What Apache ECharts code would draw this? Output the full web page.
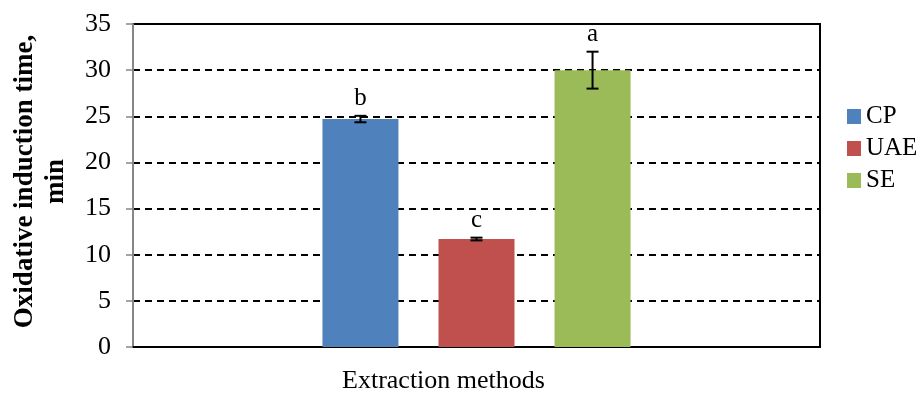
<!DOCTYPE html>
<html>
<head>
<meta charset="utf-8">
<script src="https://cdn.jsdelivr.net/npm/echarts@6/dist/echarts.min.js"></script>
<style>
html,body{margin:0;padding:0;background:#fff;}
#chart{width:924px;height:394px;}
</style>
</head>
<body>
<div id="chart"></div>
<script>
// ---- data ----
const methods = ['CP', 'UAE', 'SE'];
const positions = [1, 2, 3];
const oitValues = [24.7, 11.7, 30.0];
const oitErrors = [0.35, 0.15, 2.0];
const sigLetters = ['b', 'c', 'a'];
const yTicks = [0, 5, 10, 15, 20, 25, 30, 35];

const colors = ['#4F81BD', '#C0504D', '#9BBB59'];
const FONT = '"Liberation Serif", "Times New Roman", serif';

const chart = echarts.init(document.getElementById('chart'), null, {renderer: 'canvas'});

function makeSeries(i) {
  return {
    name: methods[i],
    type: 'custom',
    itemStyle: {color: colors[i]},
    data: [[positions[i], oitValues[i], oitErrors[i]]],
    encode: {x: 0, y: 1},
    renderItem: function (params, api) {
      const x = api.value(0), v = api.value(1), e = api.value(2), letter = sigLetters[i];
      const base = api.coord([x, 0]);
      const top = api.coord([x, v]);
      const eHi = api.coord([x, v + e]);
      const eLo = api.coord([x, v - e]);
      const bw = 76, cap = 6;
      return {
        type: 'group',
        children: [
          {type: 'rect', shape: {x: base[0] - bw / 2, y: top[1], width: bw, height: base[1] - top[1]},
            style: {fill: colors[i]}},
          {type: 'line', shape: {x1: eHi[0], y1: eHi[1], x2: eLo[0], y2: eLo[1]},
            style: {stroke: '#000', lineWidth: 2}},
          {type: 'line', shape: {x1: eHi[0] - cap, y1: eHi[1], x2: eHi[0] + cap, y2: eHi[1]},
            style: {stroke: '#000', lineWidth: 2}},
          {type: 'line', shape: {x1: eLo[0] - cap, y1: eLo[1], x2: eLo[0] + cap, y2: eLo[1]},
            style: {stroke: '#000', lineWidth: 2}},
          {type: 'text', x: eHi[0], y: eHi[1] - 5,
            style: {text: letter, fill: '#000', font: '25px ' + FONT, textAlign: 'center', textVerticalAlign: 'bottom'}}
        ]
      };
    }
  };
}

const option = {
  animation: false,
  backgroundColor: '#fff',
  grid: {left: 133, top: 24, width: 687, height: 323, containLabel: false, outerBoundsMode: 'none',
    show: true, borderColor: '#000', borderWidth: 2, backgroundColor: 'transparent'},
  legend: {
    orient: 'vertical', left: 847, top: 104, padding: 0,
    icon: 'rect', itemWidth: 14, itemHeight: 15, itemGap: 7,
    textStyle: {fontFamily: FONT, fontSize: 25, color: '#000'},
    data: methods
  },
  xAxis: {
    type: 'value', min: -0.96, max: 4.96,
    name: 'Extraction methods', nameLocation: 'middle', nameGap: 21,
    nameTextStyle: {fontFamily: FONT, fontSize: 26, color: '#000', padding: [0, 66, 0, 0]},
    axisLine: {show: true, onZero: false, lineStyle: {color: '#000', width: 2}},
    axisTick: {show: false}, axisLabel: {show: false}, splitLine: {show: false}
  },
  yAxis: {
    type: 'value', min: yTicks[0], max: yTicks[yTicks.length - 1], interval: 5,
    name: 'Oxidative induction time,\nmin', nameLocation: 'middle', nameGap: 61, nameRotate: 90,
    nameTextStyle: {fontFamily: FONT, fontSize: 27, fontWeight: 'bold', color: '#000', lineHeight: 31, padding: [0, 0, 0, 8]},
    axisLine: {show: true, onZero: false, lineStyle: {color: '#868686', width: 2}},
    axisTick: {show: true, length: 7, lineStyle: {color: '#868686', width: 1.5}},
    axisLabel: {fontFamily: FONT, fontSize: 26, color: '#000', margin: 22},
    splitLine: {show: true, lineStyle: {color: '#000', type: [7, 5], width: 2}}
  },
  series: methods.map((m, i) => makeSeries(i))
};
chart.setOption(option);
</script>
</body>
</html>
